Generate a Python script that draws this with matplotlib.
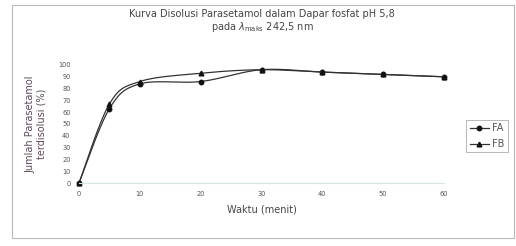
import matplotlib
matplotlib.use("Agg")
import matplotlib.pyplot as plt
from matplotlib.patches import Rectangle
from matplotlib.lines import Line2D
import numpy as np

waktu = [0, 5, 10, 20, 30, 40, 50, 60]
fa = [0, 63, 84, 86, 96, 94, 92, 90]
fb = [0, 67, 86, 93, 96, 94, 92, 90]
x_ticks = [0, 10, 20, 30, 40, 50, 60]
y_ticks = [0, 10, 20, 30, 40, 50, 60, 70, 80, 90, 100]

W, H = 516, 246
fig = plt.figure(figsize=(W / 100, H / 100), dpi=100)
fig.patch.set_facecolor("white")

# outer chart border
fig.patches.append(Rectangle((12 / W, 1 - 238 / H), (514 - 12) / W, (238 - 5) / H,
                             transform=fig.transFigure, fill=False,
                             edgecolor="#b8b8b8", linewidth=0.8))

ax = fig.add_axes([79 / W, 1 - 183 / H, (444 - 79) / W, (183 - 65) / H])
ax.set_xlim(0, 60)
ax.set_ylim(0, 100)


def smooth(xs, ys):
    # Bezier smoothing similar to Excel smoothed lines
    xs = np.asarray(xs, float); ys = np.asarray(ys, float)
    px, py = [], []
    for i in range(len(xs) - 1):
        i0 = max(i - 1, 0)
        i3 = min(i + 2, len(xs) - 1)
        t = np.linspace(0, 1, 30)
        for arr, out in ((xs, px), (ys, py)):
            a0, a1, a2, a3 = arr[i0], arr[i], arr[i + 1], arr[i3]
            m1 = (a2 - a0) / 6.0
            m2 = (a3 - a1) / 6.0
            b0, b1, b2, b3 = a1, a1 + m1, a2 - m2, a2
            out.extend(((1 - t) ** 3) * b0 + 3 * ((1 - t) ** 2) * t * b1
                       + 3 * (1 - t) * t ** 2 * b2 + t ** 3 * b3)
    return px, py


sx, sy = smooth(waktu, fa)
ax.plot(sx, sy, color="#333333", linewidth=0.9, clip_on=False)
ax.plot(waktu, fa, linestyle="none", marker="o", markersize=3.2,
        color="#111111", clip_on=False)
sx, sy = smooth(waktu, fb)
ax.plot(sx, sy, color="#333333", linewidth=0.9, clip_on=False)
ax.plot(waktu, fb, linestyle="none", marker="^", markersize=3.4,
        color="#111111", clip_on=False)

h1 = Line2D([], [], color="#333333", linewidth=0.9, marker="o", markersize=3.2,
            markerfacecolor="#111111", markeredgecolor="#111111")
h2 = Line2D([], [], color="#333333", linewidth=0.9, marker="^", markersize=3.4,
            markerfacecolor="#111111", markeredgecolor="#111111")
leg = fig.legend([h1, h2], ["FA", "FB"], loc="center",
                 bbox_to_anchor=(487 / W, 1 - 136 / H), fontsize=7,
                 frameon=True, fancybox=False, handlelength=2.0,
                 handletextpad=0.3, borderpad=0.35, labelspacing=0.6,
                 borderaxespad=0)
leg.get_frame().set_edgecolor("#999999")
leg.get_frame().set_linewidth(0.6)
for t in leg.get_texts():
    t.set_color("#555555")

ax.set_xticks(x_ticks)
ax.set_yticks(y_ticks)
ax.tick_params(axis="both", labelsize=4.8, length=0, colors="#555555", pad=6)
for s in ["top", "right", "left"]:
    ax.spines[s].set_visible(False)
ax.spines["bottom"].set_color("#d8e4e4")
ax.spines["bottom"].set_linewidth(0.8)

ax.set_xlabel("Waktu (menit)", fontsize=7, color="#444444", labelpad=5)
ax.set_ylabel("Jumlah Parasetamol\nterdisolusi (%)", fontsize=7,
              color="#5a4a5a", labelpad=8, linespacing=1.2)

fig.text(262 / W, 1 - 14 / H,
         "Kurva Disolusi Parasetamol dalam Dapar fosfat pH 5,8",
         ha="center", va="center", fontsize=7, color="#444444")
fig.text(262 / W, 1 - 27 / H, r"pada $\lambda_{\mathrm{maks}}$ 242,5 nm",
         ha="center", va="center", fontsize=7, color="#444444")

fig.savefig("out.png", dpi=100, facecolor="white")
